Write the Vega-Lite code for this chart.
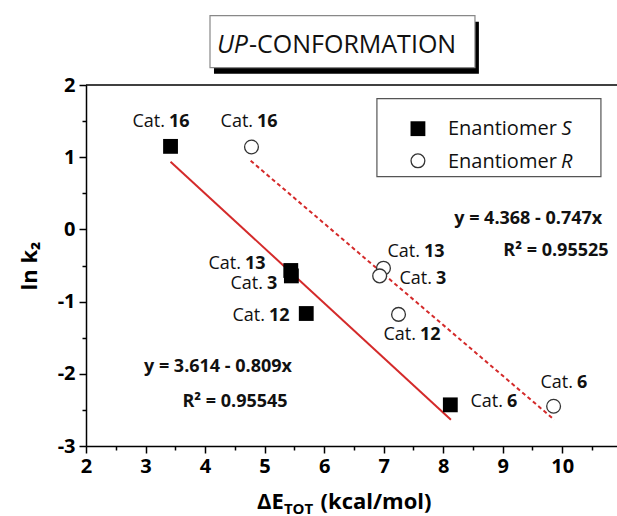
{
  "$schema": "https://vega.github.io/schema/vega-lite/v6.json",
  "width": 531,
  "height": 361,
  "autosize": {"type": "none"},
  "padding": {"left": 86, "top": 85, "right": 0, "bottom": 70},
  "background": "white",
  "config": {"view": {"stroke": null}, "font": "Open Sans"},
  "encoding": {
    "x": {
      "field": "x", "type": "quantitative",
      "scale": {"domain": [2, 10.92], "nice": false, "zero": false},
      "axis": {
        "title": null,
        "values": [2, 2.5, 3, 3.5, 4, 4.5, 5, 5.5, 6, 6.5, 7, 7.5, 8, 8.5, 9, 9.5, 10, 10.5],
        "labelExpr": "datum.value % 1 === 0 ? '' + datum.value : ''",
        "labelFont": "Open Sans", "labelFontWeight": "bold", "labelFontSize": 20, "labelColor": "#000",
        "labelFlush": false, "labelOverlap": false, "labelPadding": 3,
        "tickColor": "#000", "tickWidth": 1.5,
        "tickSize": {"condition": {"test": "datum.value % 1 !== 0", "value": 4}, "value": 7},
        "domainColor": "#000", "domainWidth": 1.5, "grid": false
      }
    },
    "y": {
      "field": "y", "type": "quantitative",
      "scale": {"domain": [-3, 2], "nice": false, "zero": false},
      "axis": {
        "title": "ln k₂",
        "titleFont": "Open Sans", "titleFontWeight": "bold", "titleFontSize": 22, "titleColor": "#000", "titlePadding": 16,
        "values": [-3, -2.5, -2, -1.5, -1, -0.5, 0, 0.5, 1, 1.5, 2],
        "labelExpr": "datum.value % 1 === 0 ? '' + datum.value : ''",
        "labelFont": "Open Sans", "labelFontWeight": "bold", "labelFontSize": 20, "labelColor": "#000",
        "labelFlush": false, "labelOverlap": false, "labelPadding": 4,
        "tickColor": "#000", "tickWidth": 1.5,
        "tickSize": {"condition": {"test": "datum.value % 1 !== 0", "value": 4}, "value": 7},
        "domainColor": "#000", "domainWidth": 1.5, "grid": false
      }
    }
  },
  "layer": [
    {
      "data": {"values": [{"x": 2, "x2": 10.92, "y": 2}]},
      "mark": {"type": "rule", "color": "#000", "strokeWidth": 1.5},
      "encoding": {"x2": {"field": "x2"}}
    },
    {
      "data": {"values": [{"x": 4.15, "x2": 8.6, "y": 2.877, "y2": 2.157}]},
      "mark": {"type": "rect", "fill": "#000"},
      "encoding": {"x2": {"field": "x2"}, "y2": {"field": "y2"}}
    },
    {
      "data": {"values": [{"x": 4.083, "x2": 8.534, "y": 2.96, "y2": 2.24}]},
      "mark": {"type": "rect", "fill": "#fff", "stroke": "#888", "strokeWidth": 1.2},
      "encoding": {"x2": {"field": "x2"}, "y2": {"field": "y2"}}
    },
    {
      "data": {"values": [{"x": 4.738, "y": 2.558, "t": "UP"}]},
      "mark": {"type": "text", "align": "right", "baseline": "middle", "fontSize": 25, "fontStyle": "italic", "color": "#111", "dx": -1},
      "encoding": {"text": {"field": "t"}}
    },
    {
      "data": {"values": [{"x": 4.738, "y": 2.558, "t": "-CONFORMATION"}]},
      "mark": {"type": "text", "align": "left", "baseline": "middle", "fontSize": 25, "color": "#111"},
      "encoding": {"text": {"field": "t"}}
    },
    {
      "data": {"values": [{"x": 6.887, "x2": 10.65, "y": 1.81, "y2": 0.73}]},
      "mark": {"type": "rect", "fill": "#fff", "stroke": "#555", "strokeWidth": 1.2},
      "encoding": {"x2": {"field": "x2"}, "y2": {"field": "y2"}}
    },
    {
      "data": {"values": [{"x": 3.42, "y": 0.938}, {"x": 8.13, "y": -2.636}]},
      "mark": {"type": "line", "color": "#d42a2a", "strokeWidth": 2}
    },
    {
      "data": {"values": [{"x": 4.766, "y": 0.951}, {"x": 9.866, "y": -2.636}]},
      "mark": {"type": "line", "color": "#d42a2a", "strokeWidth": 2, "strokeDash": [4, 3]}
    },
    {
      "data": {"values": [
        {"x": 3.42, "y": 1.15, "cat": "16"},
        {"x": 5.44, "y": -0.569, "cat": "13"},
        {"x": 5.45, "y": -0.644, "cat": "3"},
        {"x": 5.70, "y": -1.165, "cat": "12"},
        {"x": 8.12, "y": -2.43, "cat": "6"},
        {"x": 7.576, "y": 1.395, "cat": "legend"}
      ]},
      "mark": {"type": "point", "shape": "square", "filled": true, "color": "#000", "size": 220, "opacity": 1}
    },
    {
      "data": {"values": [
        {"x": 4.78, "y": 1.141, "cat": "16"},
        {"x": 6.997, "y": -0.537, "cat": "13"},
        {"x": 6.933, "y": -0.644, "cat": "3"},
        {"x": 7.25, "y": -1.177, "cat": "12"},
        {"x": 9.855, "y": -2.449, "cat": "6"},
        {"x": 7.576, "y": 0.95, "cat": "legend"}
      ]},
      "mark": {"type": "point", "shape": "circle", "filled": false, "fill": "#fff", "fillOpacity": 1, "stroke": "#333", "strokeWidth": 1.3, "size": 190, "opacity": 1}
    },
    {
      "data": {"values": [
        {"x": 3.36, "y": 1.492, "cat": "16"},
        {"x": 4.637, "y": -0.475, "cat": "13"},
        {"x": 5.006, "y": -0.752, "cat": "3"},
        {"x": 5.04, "y": -1.195, "cat": "12"},
        {"x": 9.037, "y": -2.385, "cat": "6"},
        {"x": 4.84, "y": 1.492, "cat": "16"},
        {"x": 7.643, "y": -0.309, "cat": "13"},
        {"x": 7.845, "y": -0.683, "cat": "3"},
        {"x": 7.576, "y": -1.458, "cat": "12"},
        {"x": 10.213, "y": -2.123, "cat": "6"}
      ]},
      "layer": [
        {
          "mark": {"type": "text", "align": "right", "baseline": "middle", "fontSize": 18, "color": "#111", "dx": -2},
          "encoding": {"text": {"value": "Cat."}}
        },
        {
          "mark": {"type": "text", "align": "left", "baseline": "middle", "fontSize": 18, "fontWeight": "bold", "color": "#111", "dx": 2},
          "encoding": {"text": {"field": "cat"}}
        }
      ]
    },
    {
      "data": {"values": [
        {"x": 4.217, "y": -1.911, "t": "y = 3.614 - 0.809x"},
        {"x": 4.503, "y": -2.396, "t": "R² = 0.95545"},
        {"x": 9.429, "y": 0.144, "t": "y = 4.368 - 0.747x"},
        {"x": 9.894, "y": -0.305, "t": "R² = 0.95525"}
      ]},
      "mark": {"type": "text", "align": "center", "baseline": "middle", "fontSize": 18, "fontWeight": "bold", "color": "#111"},
      "encoding": {"text": {"field": "t"}}
    },
    {
      "data": {"values": [{"x": 8.08, "y": 1.39, "t": "Enantiomer"}, {"x": 8.08, "y": 0.93, "t": "Enantiomer"}]},
      "mark": {"type": "text", "align": "left", "baseline": "middle", "fontSize": 20, "color": "#111"},
      "encoding": {"text": {"field": "t"}}
    },
    {
      "data": {"values": [{"x": 9.988, "y": 1.39, "t": "S"}, {"x": 9.98, "y": 0.93, "t": "R"}]},
      "mark": {"type": "text", "align": "left", "baseline": "middle", "fontSize": 20, "fontStyle": "italic", "color": "#111"},
      "encoding": {"text": {"field": "t"}}
    },
    {
      "data": {"values": [{"x": 5.325, "y": -3.781, "t": "ΔE"}]},
      "mark": {"type": "text", "align": "right", "baseline": "middle", "fontSize": 22, "fontWeight": "bold", "color": "#000"},
      "encoding": {"text": {"field": "t"}}
    },
    {
      "data": {"values": [{"x": 5.325, "y": -3.868, "t": "TOT"}]},
      "mark": {"type": "text", "align": "left", "baseline": "middle", "fontSize": 15, "fontWeight": "bold", "color": "#000"},
      "encoding": {"text": {"field": "t"}}
    },
    {
      "data": {"values": [{"x": 5.94, "y": -3.781, "t": "(kcal/mol)"}]},
      "mark": {"type": "text", "align": "left", "baseline": "middle", "fontSize": 22, "fontWeight": "bold", "color": "#000"},
      "encoding": {"text": {"field": "t"}}
    }
  ]
}
